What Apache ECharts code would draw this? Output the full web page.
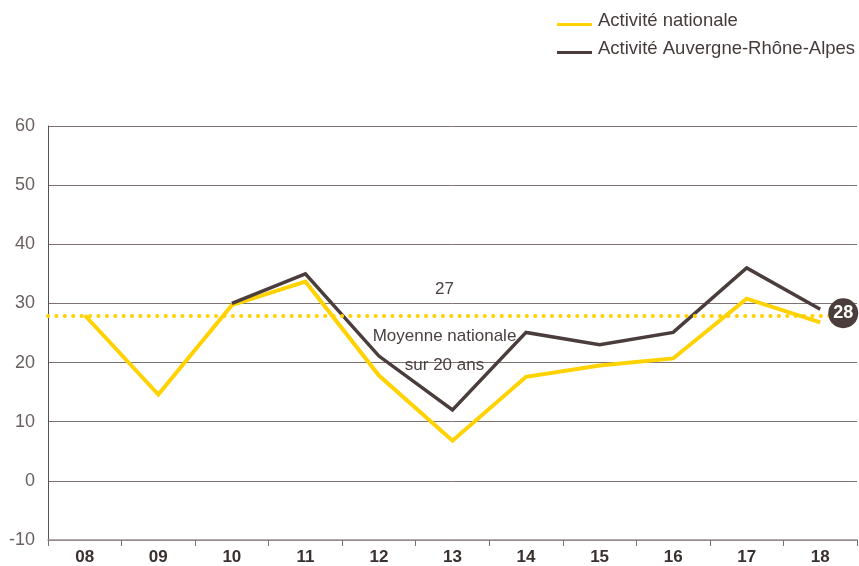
<!DOCTYPE html>
<html>
<head>
<meta charset="utf-8">
<script src="https://cdn.jsdelivr.net/npm/echarts@6/dist/echarts.min.js"></script>
<style>
html,body{margin:0;padding:0;background:#fff;}
#chart{width:859px;height:566px;}
</style>
</head>
<body>
<div id="chart"></div>
<script>
// ---- data ----
const categories = ['08','09','10','11','12','13','14','15','16','17','18'];
const nationalValues = [28, 14.6, 29.7, 33.7, 17.8, 6.8, 17.6, 19.5, 20.7, 30.8, 26.8];
const regionalValues = [null, null, 30, 35, 21.1, 12, 25.1, 23, 25.1, 36, 29];
const seriesNames = ['Activité nationale', 'Activité Auvergne-Rhône-Alpes'];
const yMin = -10, yMax = 60, yStep = 10;
const averageValue = 28;
const averageBadge = '28';
const annotationTop = '27';
const annotationLines = ['Moyenne nationale', 'sur 20 ans'];

const YELLOW = '#FFD200';
const DARK = '#4a3d3c';
const FONT = '"Liberation Sans", Arial, Helvetica, sans-serif';

const chart = echarts.init(document.getElementById('chart'), null, {renderer: 'canvas'});
chart.setOption({
  animation: false,
  backgroundColor: '#fff',
  textStyle: {fontFamily: FONT},
  legend: {
    orient: 'vertical',
    left: 557,
    top: 11,
    padding: 0,
    itemWidth: 35,
    itemHeight: 11,
    itemGap: 9,
    icon: 'path://M0,0 L35,0 M0,8 L35,8 L35,11 L0,11 Z',
    itemStyle: {borderWidth: 0},
    textStyle: {fontSize: 18.5, color: '#463b3b', fontFamily: FONT, lineHeight: 18, padding: [0,0,0,1]},
    data: seriesNames
  },
  grid: {left: 48, right: 2, top: 126, bottom: 22, containLabel: false},
  xAxis: {
    type: 'category',
    data: categories,
    boundaryGap: true,
    axisLine: {onZero: false, show: true, lineStyle: {color: '#9b9292', width: 1.5}},
    axisTick: {show: true, length: 6, alignWithLabel: false, lineStyle: {color: '#7a7070', width: 1}},
    axisLabel: {fontSize: 17, fontWeight: 'bold', color: '#3a3030', margin: 9, fontFamily: FONT},
    splitLine: {show: false}
  },
  yAxis: {
    type: 'value',
    min: yMin, max: yMax, interval: yStep,
    axisLine: {show: true, lineStyle: {color: '#5a4f4f', width: 1}},
    axisTick: {show: false},
    axisLabel: {fontSize: 18, color: '#6a6060', margin: 13, verticalAlign: 'middle', padding: [0,0,8,0], fontFamily: FONT},
    splitLine: {show: true, lineStyle: {color: '#7d7272', width: 1}}
  },
  series: [
    {
      name: seriesNames[0],
      type: 'line',
      data: nationalValues,
      color: YELLOW,
      symbol: 'none',
      lineStyle: {color: YELLOW, width: 4, join: 'miter'},
      z: 3,
      markLine: {
        silent: true,
        symbol: ['none','none'],
        label: {show: false},
        lineStyle: {color: YELLOW, width: 4, type: [0.1, 8.3], cap: 'round'},
        data: [{yAxis: averageValue}]
      },
      markPoint: {
        silent: true,
        symbol: 'circle',
        symbolSize: 0,
        label: {show: true, position: 'inside', fontSize: 17, color: '#4a4040', fontFamily: FONT},
        data: [
          {coord: ['13', 32.4], label: {formatter: annotationTop, offset: [-8, 0]}},
          {coord: ['13', 24.5], label: {formatter: annotationLines[0], offset: [-8, 0]}},
          {coord: ['13', 19.5], label: {formatter: annotationLines[1], offset: [-8, 0]}}
        ]
      }
    },
    {
      name: seriesNames[1],
      type: 'line',
      data: regionalValues,
      color: DARK,
      symbol: 'none',
      connectNulls: false,
      lineStyle: {color: DARK, width: 3.5, join: 'miter'},
      z: 4,
      markPoint: {
        silent: true,
        symbol: 'circle',
        symbolSize: 30,
        symbolOffset: [23, -2],
        itemStyle: {color: DARK},
        label: {show: true, position: 'inside', formatter: averageBadge, color: '#fff', fontWeight: 'bold', fontSize: 18, fontFamily: FONT},
        data: [{coord: ['18', averageValue]}]
      }
    }
  ]
});
</script>
</body>
</html>
